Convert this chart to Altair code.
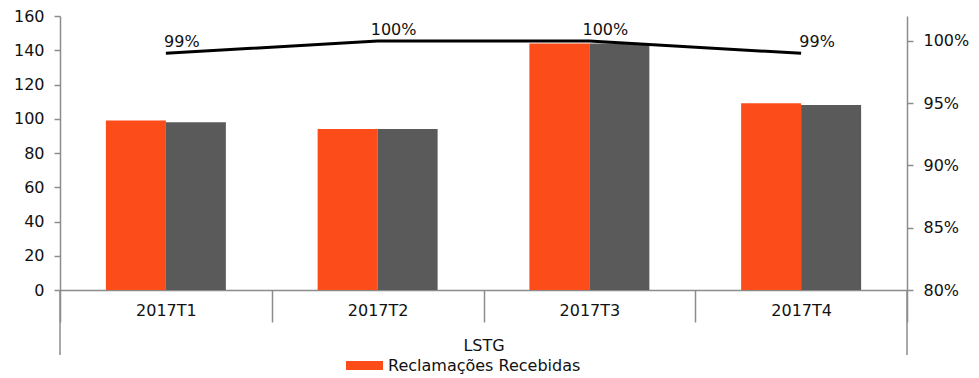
import altair as alt
import pandas as pd

trimestres = ["2017T1", "2017T2", "2017T3", "2017T4"]
recebidas = [99, 94, 144, 109]
respondidas = [98, 94, 144, 108]
taxa = [0.99, 1.00, 1.00, 0.99]
series = ["Reclamações Recebidas", "Reclamações Respondidas"]
cores = ["#FC4C1A", "#5A5A5A"]

FONT = "DejaVu Sans"
FS = 16
TXT = "#111111"
AXIS_GRAY = "#8C8C8C"
W, H = 847, 274

rows = []
for t, r, s in zip(trimestres, recebidas, respondidas):
    rows.append({"trimestre": t, "serie": series[0], "valor": r})
    rows.append({"trimestre": t, "serie": series[1], "valor": s})
bars_df = pd.DataFrame(rows)
line_df = pd.DataFrame({"trimestre": trimestres, "taxa": taxa})

x_enc = alt.X(
    "trimestre:N",
    sort=trimestres,
    scale=alt.Scale(paddingInner=0, paddingOuter=0),
    axis=alt.Axis(
        title="LSTG",
        labelAngle=0,
        tickBand="extent",
        tickSize=32,
        labelPadding=-20,
        labelFont=FONT,
        labelFontSize=FS,
        labelColor=TXT,
        titleFont=FONT,
        titleFontSize=FS,
        titleFontWeight="normal",
        titleColor=TXT,
        titleY=60,
        titleBaseline="alphabetic",
        domainColor=AXIS_GRAY,
        tickColor=AXIS_GRAY,
        domainWidth=1.5,
        tickWidth=1.5,
    ),
)

bars = alt.Chart(bars_df).mark_bar(size=60).encode(
    x=x_enc,
    xOffset=alt.XOffset("serie:N", sort=series, scale=alt.Scale(paddingInner=0, paddingOuter=0.765)),
    y=alt.Y(
        "valor:Q",
        scale=alt.Scale(domain=[0, 160], nice=False),
        axis=alt.Axis(
            title=None,
            values=list(range(0, 161, 20)),
            grid=False,
            tickSize=6,
            labelPadding=10,
            labelFont=FONT,
            labelFontSize=FS,
            labelColor=TXT,
            domainColor=AXIS_GRAY,
            tickColor=AXIS_GRAY,
            domainWidth=1.5,
            tickWidth=1.5,
        ),
    ),
    color=alt.Color(
        "serie:N",
        scale=alt.Scale(domain=series, range=cores),
        legend=alt.Legend(
            title=None,
            values=[series[0]],
            orient="none",
            legendX=286,
            legendY=331,
            symbolType="M-1,-0.243H1V0.243H-1Z",
            symbolSize=1369,
            symbolStrokeWidth=0,
            labelFont=FONT,
            labelFontSize=FS,
            labelColor=TXT,
            labelOffset=5,
            labelLimit=400,
        ),
    ),
)

y_right = alt.Y(
    "taxa:Q",
    scale=alt.Scale(domain=[0.8, 1.02], nice=False),
    axis=alt.Axis(
        title=None,
        orient="right",
        values=[0.8, 0.85, 0.9, 0.95, 1.0],
        format=".0%",
        grid=False,
        tickSize=6,
        labelPadding=10,
        labelFont=FONT,
        labelFontSize=FS,
        labelColor=TXT,
        domainColor=AXIS_GRAY,
        tickColor=AXIS_GRAY,
        domainWidth=1.5,
        tickWidth=1.5,
    ),
)

line = alt.Chart(line_df).mark_line(color="black", strokeWidth=3).encode(
    x=alt.X("trimestre:N", sort=trimestres),
    y=y_right,
)

labels = alt.Chart(line_df).mark_text(
    font=FONT, fontSize=FS, color=TXT, baseline="bottom", align="center", dx=16, dy=-3
).encode(
    x=alt.X("trimestre:N", sort=trimestres),
    y=y_right,
    text=alt.Text("taxa:Q", format=".0%"),
)

right_layer = alt.layer(line, labels)

edge_df = pd.DataFrame({"k": [0]})
edge_left = alt.Chart(edge_df).mark_rule(color=AXIS_GRAY, strokeWidth=1.5).encode(
    x=alt.value(0), y=alt.value(H), y2=alt.value(H + 65)
)
edge_right = alt.Chart(edge_df).mark_rule(color=AXIS_GRAY, strokeWidth=1.5).encode(
    x=alt.value(W), y=alt.value(H), y2=alt.value(H + 65)
)

chart = alt.layer(bars, right_layer, edge_left, edge_right).resolve_scale(
    y="independent", color="independent"
).properties(
    width=W,
    height=H,
    autosize=alt.AutoSizeParams(type="none"),
    padding={"left": 52, "top": 8, "right": 64, "bottom": 88},
).configure(background="white", view=alt.ViewConfig(stroke=None))

chart.save("out.html", embed_options={"renderer": "svg", "actions": False})
